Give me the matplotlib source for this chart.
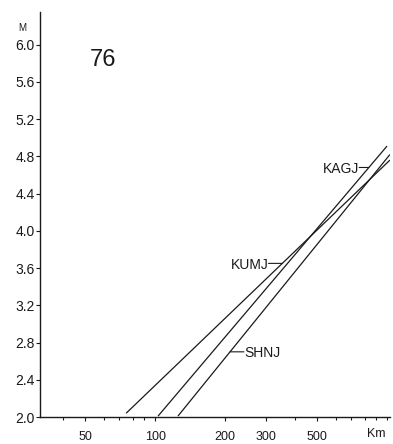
import matplotlib.pyplot as plt
import numpy as np
from matplotlib.ticker import FixedLocator, NullFormatter

# station lines: distance (km) and magnitude at both ends
stations = ["KUMJ", "KAGJ", "SHNJ"]
dist = [[75, 1030], [103, 1000], [125.5, 1030]]
mag = [[2.04, 4.76], [2.01, 4.91], [2.01, 4.82]]

# label magnitude and which side of the line the name sits on
label_mag = [3.65, 4.68, 2.70]
label_side = ["left", "left", "right"]
label_gap = [10, 7, 10]

yticks = [2.0, 2.4, 2.8, 3.2, 3.6, 4.0, 4.4, 4.8, 5.2, 5.6, 6.0]
xmajor = [50, 100, 200, 300, 500]
xminor = [40, 60, 70, 80, 90, 400, 600, 700, 800, 900, 1000]

plt.rcParams["font.family"] = ["Liberation Sans", "DejaVu Sans"]

fig = plt.figure(figsize=(3.93, 4.44), dpi=100)
ax = fig.add_axes([40 / 393, 27 / 444, 350 / 393, 405 / 444])

ink = "#1a1a1a"
for name, d, m in zip(stations, dist, mag):
    ax.plot(d, m, color=ink, lw=0.9, solid_capstyle="butt")

for name, d, m, lm, side, gap in zip(stations, dist, mag, label_mag,
                                     label_side, label_gap):
    # position on the (log-linear) line at the label's magnitude
    ld = np.log10(d)
    lx = 10 ** (ld[0] + (lm - m[0]) * (ld[1] - ld[0]) / (m[1] - m[0]))
    off = -gap if side == "left" else gap
    ax.annotate("", xy=(lx, lm), xytext=(off, 0), textcoords="offset points",
                arrowprops=dict(arrowstyle="-", color=ink, lw=0.8,
                                shrinkA=0, shrinkB=0))
    ax.annotate(name, xy=(lx, lm), xytext=(off, -1), textcoords="offset points",
                ha="right" if side == "left" else "left", va="center",
                fontsize=10, color=ink)

ax.set_xscale("log")
ax.set_xlim(31.9, 1030)
ax.set_ylim(2.0, 6.35)

ax.spines["top"].set_visible(False)
ax.spines["right"].set_visible(False)
for s in ("left", "bottom"):
    ax.spines[s].set_linewidth(1.0)
    ax.spines[s].set_color(ink)

ax.set_yticks(yticks)
ax.set_yticklabels([f"{v:.1f}" for v in yticks])
ax.xaxis.set_major_locator(FixedLocator(xmajor))
ax.set_xticklabels([str(v) for v in xmajor])
ax.xaxis.set_minor_locator(FixedLocator(xminor))
ax.xaxis.set_minor_formatter(NullFormatter())
ax.tick_params(axis="both", which="both", direction="out", colors=ink,
               labelsize=10, width=0.8)
ax.tick_params(axis="y", length=3, pad=1)
ax.tick_params(axis="x", which="major", length=3, pad=7, labelsize=9)
ax.tick_params(axis="x", which="minor", length=2)

ax.text(900, 1.82, "Km", ha="center", va="center", fontsize=9, color=ink,
        clip_on=False)
ax.text(-0.05, 6.18, "M", transform=ax.get_yaxis_transform(), ha="center",
        va="center", fontsize=7, color=ink)
ax.text(103 / 393, 1 - 60 / 444, "76", transform=fig.transFigure,
        ha="center", va="center", fontsize=17, color=ink)

fig.savefig("out.png", dpi=100)
